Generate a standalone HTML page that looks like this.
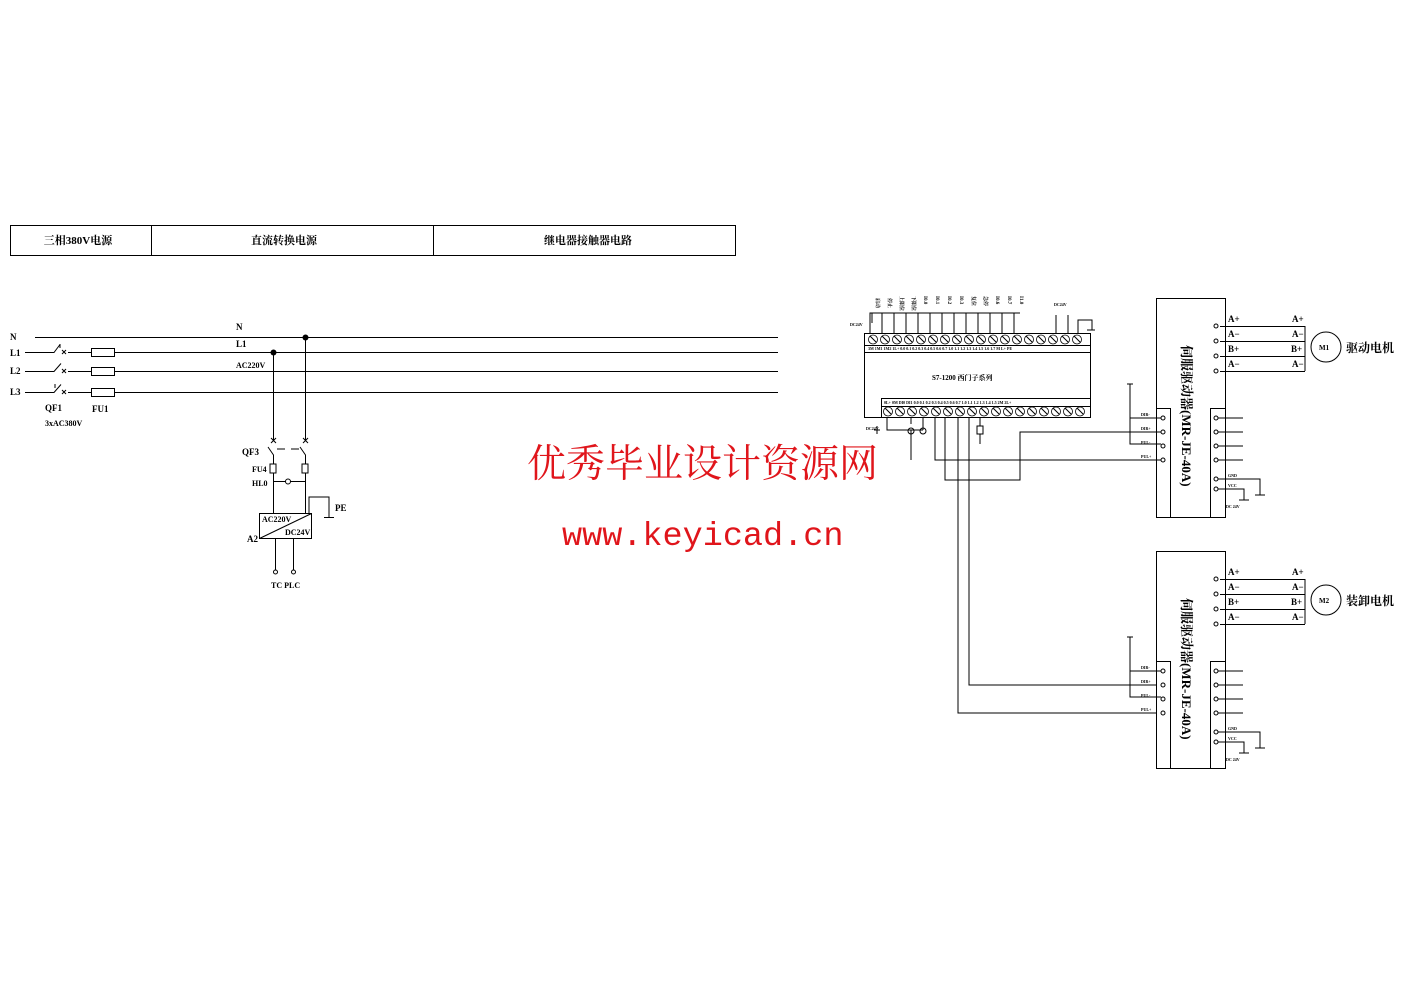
<!DOCTYPE html>
<html><head><meta charset="utf-8"><style>
html,body{margin:0;padding:0;background:#fff;}
svg{display:block;font-family:"Liberation Serif","Noto Serif CJK SC",serif;}
.s{font-size:6px;font-weight:bold}
.m{font-size:9px;font-weight:bold}
</style></head><body>
<svg width="1403" height="992" viewBox="0 0 1403 992" xmlns="http://www.w3.org/2000/svg">
<g stroke="#000" stroke-width="1" fill="none">
<rect x="10.5" y="225.5" width="725" height="30"/>
<line x1="151.5" y1="225" x2="151.5" y2="255"/>
<line x1="433.5" y1="225" x2="433.5" y2="255"/>
<line x1="35" y1="337.5" x2="778" y2="337.5"/>
<line x1="25" y1="352.5" x2="778" y2="352.5"/>
<line x1="25" y1="371.5" x2="778" y2="371.5"/>
<line x1="25" y1="392.5" x2="778" y2="392.5"/>
<rect x="91.5" y="348.5" width="23" height="8" fill="#fff"/>
<rect x="91.5" y="367.5" width="23" height="8" fill="#fff"/>
<rect x="91.5" y="388.5" width="23" height="8" fill="#fff"/>
<g fill="#fff"><rect x="50" y="345" width="18" height="50" stroke="none"/></g>
<path d="M50 352.5h4l6-8M60 348v-4M50 371.5h4l7-8M50 392.5h4l7-8M55 384v4M68 392.5h10M68 371.5h10M68 352.5h10"/>
<path d="M62 350l4 4M66 350l-4 4M62 369l4 4M66 369l-4 4M62 390l4 4M66 390l-4 4"/>
<line x1="273.5" y1="352" x2="273.5" y2="440"/>
<line x1="305.5" y1="337" x2="305.5" y2="440"/>
<path d="M271 438l5 5M276 438l-5 5M303 438l5 5M308 438l-5 5"/>
<path d="M268 447l5.5 8v9M300 447l5.5 8v9M277 449h8M291 449h8"/>
<rect x="270" y="464" width="6" height="9"/><rect x="302" y="464" width="6" height="9"/>
<line x1="273.5" y1="473" x2="273.5" y2="513"/>
<line x1="305.5" y1="473" x2="305.5" y2="513"/>
<line x1="273.5" y1="481.5" x2="305.5" y2="481.5"/>
<circle cx="288" cy="481.5" r="2.5" fill="#fff"/>
<rect x="259.5" y="513.5" width="52" height="25"/>
<line x1="259.5" y1="538.5" x2="311.5" y2="513.5"/>
<path d="M309 513v-16h20v20M324 517.5h10"/>
<line x1="275.5" y1="538" x2="275.5" y2="570"/>
<line x1="293.5" y1="538" x2="293.5" y2="570"/>
<circle cx="275.5" cy="572" r="2"/><circle cx="293.5" cy="572" r="2"/>
</g>
<circle cx="273.5" cy="352.5" r="3"/><circle cx="305.5" cy="337.5" r="3"/>
<g font-size="11" font-weight="bold" text-anchor="middle">
<text x="78" y="244">三相380V电源</text>
<text x="284" y="244">直流转换电源</text>
<text x="588" y="244">继电器接触器电路</text>
</g>
<g class="m">
<text x="10" y="340">N</text><text x="10" y="356">L1</text><text x="10" y="374">L2</text><text x="10" y="395">L3</text>
<text x="45" y="411">QF1</text><text x="92" y="412">FU1</text>
<text x="45" y="426" font-size="8">3xAC380V</text>
<text x="236" y="330">N</text><text x="236" y="347">L1</text><text x="236" y="368" font-size="8">AC220V</text>
<text x="242" y="455">QF3</text><text x="252" y="472" font-size="8">FU4</text><text x="252" y="486" font-size="8">HL0</text>
<text x="335" y="511">PE</text><text x="247" y="542">A2</text>
<text x="262" y="522" font-size="8">AC220V</text><text x="285" y="535" font-size="8">DC24V</text>
<text x="271" y="588" font-size="8">TC PLC</text>
</g>
<g stroke="#000" fill="none">
<rect x="864.5" y="333.5" width="226" height="84"/>
<line x1="864" y1="345.5" x2="1090" y2="345.5"/>
<rect x="864.5" y="345.5" width="226" height="7"/>
<rect x="881.5" y="398.5" width="209" height="8"/>
<line x1="881.5" y1="406.5" x2="1090" y2="406.5"/>
<line x1="881.5" y1="406" x2="881.5" y2="418"/>
<g stroke-width="0.8">
<circle cx="873" cy="339.5" r="4.5"/><circle cx="885" cy="339.5" r="4.5"/><circle cx="897" cy="339.5" r="4.5"/><circle cx="909" cy="339.5" r="4.5"/><circle cx="921" cy="339.5" r="4.5"/><circle cx="933" cy="339.5" r="4.5"/><circle cx="945" cy="339.5" r="4.5"/><circle cx="957" cy="339.5" r="4.5"/><circle cx="969" cy="339.5" r="4.5"/><circle cx="981" cy="339.5" r="4.5"/><circle cx="993" cy="339.5" r="4.5"/><circle cx="1005" cy="339.5" r="4.5"/><circle cx="1017" cy="339.5" r="4.5"/><circle cx="1029" cy="339.5" r="4.5"/><circle cx="1041" cy="339.5" r="4.5"/><circle cx="1053" cy="339.5" r="4.5"/><circle cx="1065" cy="339.5" r="4.5"/><circle cx="1077" cy="339.5" r="4.5"/>
<circle cx="888" cy="411.5" r="4.5"/><circle cx="900" cy="411.5" r="4.5"/><circle cx="912" cy="411.5" r="4.5"/><circle cx="924" cy="411.5" r="4.5"/><circle cx="936" cy="411.5" r="4.5"/><circle cx="948" cy="411.5" r="4.5"/><circle cx="960" cy="411.5" r="4.5"/><circle cx="972" cy="411.5" r="4.5"/><circle cx="984" cy="411.5" r="4.5"/><circle cx="996" cy="411.5" r="4.5"/><circle cx="1008" cy="411.5" r="4.5"/><circle cx="1020" cy="411.5" r="4.5"/><circle cx="1032" cy="411.5" r="4.5"/><circle cx="1044" cy="411.5" r="4.5"/><circle cx="1056" cy="411.5" r="4.5"/><circle cx="1068" cy="411.5" r="4.5"/><circle cx="1080" cy="411.5" r="4.5"/>
</g>
<path d="M870 336l6 6M882 336l6 6M894 336l6 6M906 336l6 6M918 336l6 6M930 336l6 6M942 336l6 6M954 336l6 6M966 336l6 6M978 336l6 6M990 336l6 6M1002 336l6 6M1014 336l6 6M1026 336l6 6M1038 336l6 6M1050 336l6 6M1062 336l6 6M1074 336l6 6"/>
<path d="M885 408l6 6M897 408l6 6M909 408l6 6M921 408l6 6M933 408l6 6M945 408l6 6M957 408l6 6M969 408l6 6M981 408l6 6M993 408l6 6M1005 408l6 6M1017 408l6 6M1029 408l6 6M1041 408l6 6M1053 408l6 6M1065 408l6 6M1077 408l6 6"/>
<path d="M870 333v-20h150M872 313v10M882 313v20M894 313v20M906 313v20M918 313v20M930 313v20M942 313v20M954 313v20M966 313v20M978 313v20M990 313v20M1002 313v20M1014 313v20"/>
<path d="M1056 333v-18M1068 333v-18M1078 333v-13h14v10M1087 330h8"/>
<path d="M887 418v12h24v30M911 430h12M923 418v12M877 426v8M874 430h6M911 418v6M923 418v6"/>
<circle cx="911" cy="431" r="3"/><circle cx="923" cy="431" r="3"/>
<path d="M980 418v8M980 434v10"/><rect x="977" y="426" width="6" height="8"/>
<path d="M935 418v42h205M945 418v62h75v-48h120M958 418v295h198M969 418v267h187"/>
<rect x="1156.5" y="298.5" width="69" height="219"/>
<rect x="1156.5" y="408.5" width="14" height="109"/>
<rect x="1210.5" y="408.5" width="15" height="109"/>
<path d="M1220 326.5h85M1220 341.5h85M1220 356.5h85M1220 371.5h85M1305 326v45"/>
<circle cx="1216" cy="326" r="2"/><circle cx="1216" cy="341" r="2"/><circle cx="1216" cy="356" r="2"/><circle cx="1216" cy="371" r="2"/>
<circle cx="1326" cy="347" r="15"/>
<path d="M1130 384v8M1127 384h6M1130 387v31h31M1130 418v26h31M1140 432h21M1140 460h21"/>
<circle cx="1163" cy="418" r="2"/><circle cx="1163" cy="432" r="2"/><circle cx="1163" cy="446" r="2"/><circle cx="1163" cy="460" r="2"/>
<path d="M1218 418h25M1218 432h25M1218 446h25M1218 460h25M1218 479h42v16M1255 495h10M1218 489h26v11M1239 500h10"/>
<circle cx="1216" cy="418" r="2"/><circle cx="1216" cy="432" r="2"/><circle cx="1216" cy="446" r="2"/><circle cx="1216" cy="460" r="2"/><circle cx="1216" cy="479" r="2"/><circle cx="1216" cy="489" r="2"/>
<g transform="translate(0,253)">
<rect x="1156.5" y="298.5" width="69" height="217"/>
<rect x="1156.5" y="408.5" width="14" height="107"/>
<rect x="1210.5" y="408.5" width="15" height="107"/>
<path d="M1220 326.5h85M1220 341.5h85M1220 356.5h85M1220 371.5h85M1305 326v45"/>
<circle cx="1216" cy="326" r="2"/><circle cx="1216" cy="341" r="2"/><circle cx="1216" cy="356" r="2"/><circle cx="1216" cy="371" r="2"/>
<circle cx="1326" cy="347" r="15"/>
<path d="M1130 384v8M1127 384h6M1130 387v31h31M1130 418v26h31"/>
<circle cx="1163" cy="418" r="2"/><circle cx="1163" cy="432" r="2"/><circle cx="1163" cy="446" r="2"/><circle cx="1163" cy="460" r="2"/>
<path d="M1218 418h25M1218 432h25M1218 446h25M1218 460h25M1218 479h42v16M1255 495h10M1218 489h26v11M1239 500h10"/>
<circle cx="1216" cy="418" r="2"/><circle cx="1216" cy="432" r="2"/><circle cx="1216" cy="446" r="2"/><circle cx="1216" cy="460" r="2"/><circle cx="1216" cy="479" r="2"/><circle cx="1216" cy="489" r="2"/>
</g>
</g>
<g font-size="5" font-weight="bold">
<text transform="translate(876,298) rotate(90)">启动</text><text transform="translate(888,298) rotate(90)">停止</text>
<text transform="translate(900,296) rotate(90)">上限位</text><text transform="translate(912,296) rotate(90)">下限位</text>
<text transform="translate(924,296) rotate(90)">I0.0</text><text transform="translate(936,296) rotate(90)">I0.1</text>
<text transform="translate(948,296) rotate(90)">I0.2</text><text transform="translate(960,296) rotate(90)">I0.3</text>
<text transform="translate(972,296) rotate(90)">复位</text><text transform="translate(984,296) rotate(90)">急停</text>
<text transform="translate(996,296) rotate(90)">I0.6</text><text transform="translate(1008,296) rotate(90)">I0.7</text>
<text transform="translate(1020,296) rotate(90)">I1.0</text>
<text x="1054" y="306" font-size="4">DC24V</text>
</g>
<g class="s">
<text x="932" y="380" font-size="7">S7-1200  西门子系列</text>
<text x="850" y="326" font-size="4">DC24V</text>
<text x="868" y="350" font-size="4">3M 1M1 1M2 1L+ 0.0 0.1 0.2 0.3 0.4 0.5 0.6 0.7 1.0 1.1 1.2 1.3 1.4 1.5 1.6 1.7 M L+ PE</text>
<text x="884" y="404" font-size="4">0L+ 0M DI0 DI1 0.0 0.1 0.2 0.3 0.4 0.5 0.6 0.7 1.0 1.1 1.2 1.3 1.4 1.5 2M 2L+</text>
<text x="866" y="430" font-size="4">DC24V</text>
</g>
<g class="m">
<text x="1228" y="322">A+</text><text x="1228" y="337">A−</text><text x="1228" y="352">B+</text><text x="1228" y="367">A−</text>
<text x="1292" y="322">A+</text><text x="1292" y="337">A−</text><text x="1291" y="352">B+</text><text x="1292" y="367">A−</text>
<text x="1319" y="350" font-size="7">M1</text>
<text x="1346" y="352" font-size="12">驱动电机</text>
<text x="1228" y="575">A+</text><text x="1228" y="590">A−</text><text x="1228" y="605">B+</text><text x="1228" y="620">A−</text>
<text x="1292" y="575">A+</text><text x="1292" y="590">A−</text><text x="1291" y="605">B+</text><text x="1292" y="620">A−</text>
<text x="1319" y="603" font-size="7">M2</text>
<text x="1346" y="605" font-size="12">装卸电机</text>
</g>
<g font-size="4" font-weight="bold">
<text x="1141" y="416">DIR-</text><text x="1141" y="430">DIR+</text><text x="1141" y="444">PUL-</text><text x="1141" y="458">PUL+</text>
<text x="1228" y="477">GND</text><text x="1228" y="487">VCC</text><text x="1226" y="508">DC 24V</text>
<text x="1141" y="669">DIR-</text><text x="1141" y="683">DIR+</text><text x="1141" y="697">PUL-</text><text x="1141" y="711">PUL+</text>
<text x="1228" y="730">GND</text><text x="1228" y="740">VCC</text><text x="1226" y="761">DC 24V</text>
</g>
<g font-size="13" font-weight="bold">
<text transform="translate(1182,345) rotate(90)">伺服驱动器(MR-JE-40A)</text>
<text transform="translate(1182,598) rotate(90)">伺服驱动器(MR-JE-40A)</text>
</g>
<text x="527" y="477" font-size="39" fill="#e0151b" font-family="'Noto Serif CJK SC',serif">优秀毕业设计资源网</text>
<text x="562" y="545" font-size="33.5" fill="#e0151b" font-family="'Liberation Mono',monospace">www.keyicad.cn</text>
</svg>
</body></html>
